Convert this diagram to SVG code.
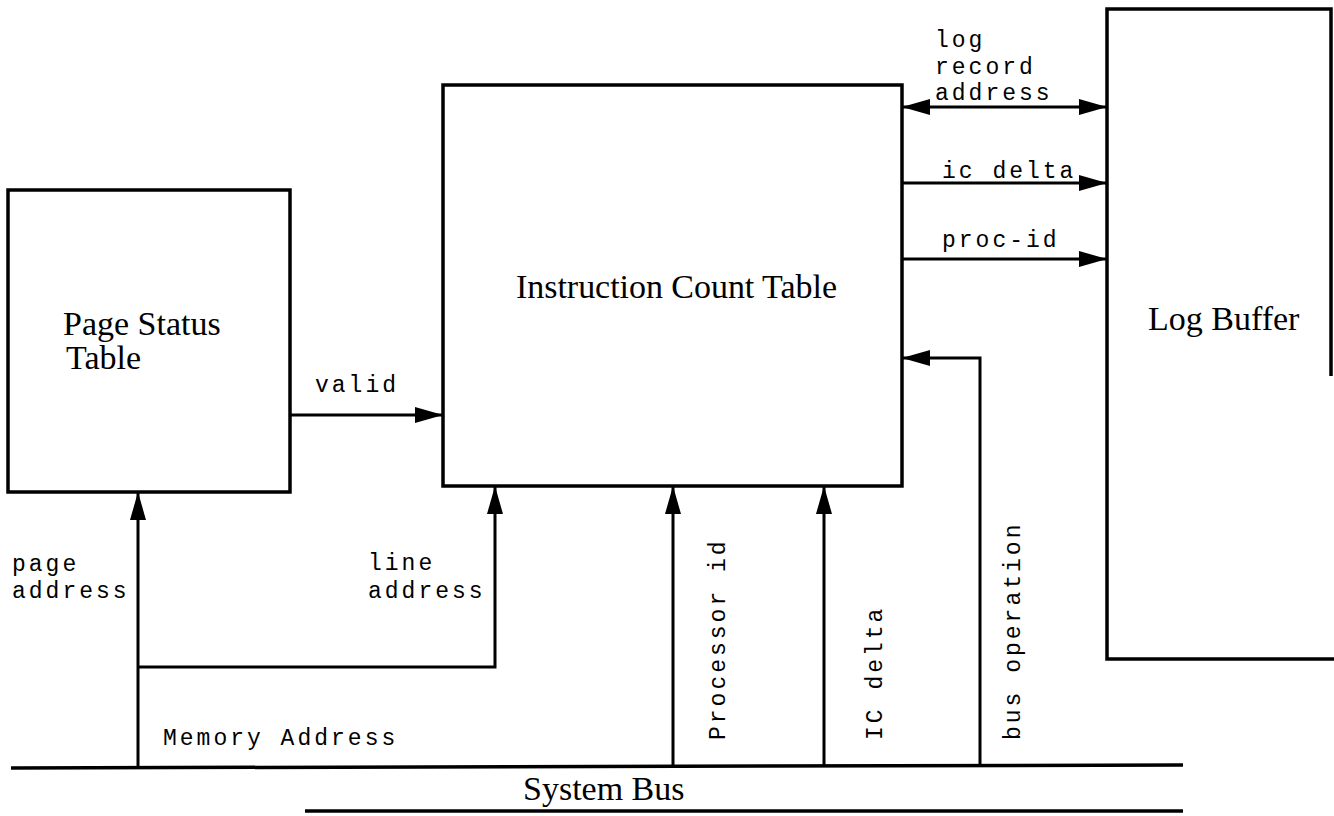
<svg xmlns="http://www.w3.org/2000/svg" width="1334" height="816" viewBox="0 0 1334 816">
  <style>
    .box { fill: #fff; stroke: #000; stroke-width: 3.5; }
    .wire { fill: none; stroke: #000; stroke-width: 3; }
    .bus { fill: none; stroke: #000; stroke-width: 3.5; }
    .title { font-family: "Liberation Serif", "Times New Roman", serif; font-size: 34px; fill: #000; }
    .sig { font-family: "Liberation Mono", "Courier New", monospace; font-size: 23px; letter-spacing: 3px; fill: #000; }
  </style>
  <defs>
    <marker id="head" markerUnits="userSpaceOnUse" markerWidth="28" markerHeight="16" refX="27" refY="8" orient="auto-start-reverse" viewBox="0 0 28 16">
      <path d="M0,0 L28,8 L0,16 Z" fill="#000"/>
    </marker>
  </defs>

  <rect width="1334" height="816" fill="#fff"/>

  <!-- system bus rails -->
  <g id="system-bus">
    <path class="bus" d="M11,768 L1183,765"/>
    <path class="bus" d="M305,811 L1183,811"/>
    <text class="title" x="523" y="800">System Bus</text>
  </g>

  <g id="page-status-table">
    <rect class="box" x="8" y="190" width="282" height="302"/>
    <text class="title" x="63" y="335">Page Status</text>
    <text class="title" x="66" y="369">Table</text>
  </g>

  <g id="instruction-count-table">
    <rect class="box" x="443" y="85" width="459" height="401"/>
    <text class="title" x="516" y="298" textLength="321">Instruction Count Table</text>
  </g>

  <g id="log-buffer">
    <path class="box" d="M1331,376 L1331,9 L1107,9 L1107,659 L1334,659"/>
    <text class="title" x="1148" y="330">Log Buffer</text>
  </g>

  <g id="connectors">
    <!-- valid -->
    <path class="wire" d="M290,415 L442,415" marker-end="url(#head)"/>
    <!-- page address -->
    <path class="wire" d="M138,767 L138,493" marker-end="url(#head)"/>
    <!-- line address branch -->
    <path class="wire" d="M138,667 L495,667 L495,487" marker-end="url(#head)"/>
    <!-- processor id -->
    <path class="wire" d="M673,766 L673,487" marker-end="url(#head)"/>
    <!-- IC delta -->
    <path class="wire" d="M824,766 L824,487" marker-end="url(#head)"/>
    <!-- bus operation -->
    <path class="wire" d="M980,766 L980,358 L903,358" marker-end="url(#head)"/>
    <!-- log record address (bidirectional) -->
    <path class="wire" d="M903,107 L1106,107" marker-start="url(#head)" marker-end="url(#head)"/>
    <!-- ic delta to log -->
    <path class="wire" d="M902,183 L1106,183" marker-end="url(#head)"/>
    <!-- proc-id to log -->
    <path class="wire" d="M902,259 L1106,259" marker-end="url(#head)"/>
  </g>

  <g id="signal-labels">
    <text class="sig" x="935" y="47">log</text>
    <text class="sig" x="935" y="74">record</text>
    <text class="sig" x="935" y="100">address</text>
    <text class="sig" x="942" y="178">ic delta</text>
    <text class="sig" x="942" y="247">proc-id</text>
    <text class="sig" x="315" y="392">valid</text>
    <text class="sig" x="12" y="571">page</text>
    <text class="sig" x="12" y="598">address</text>
    <text class="sig" x="368" y="570">line</text>
    <text class="sig" x="368" y="598">address</text>
    <text class="sig" x="163" y="745">Memory Address</text>
    <text class="sig" transform="translate(725,740) rotate(-90)">Processor id</text>
    <text class="sig" transform="translate(882,740) rotate(-90)">IC delta</text>
    <text class="sig" transform="translate(1020,740) rotate(-90)">bus operation</text>
  </g>
</svg>
